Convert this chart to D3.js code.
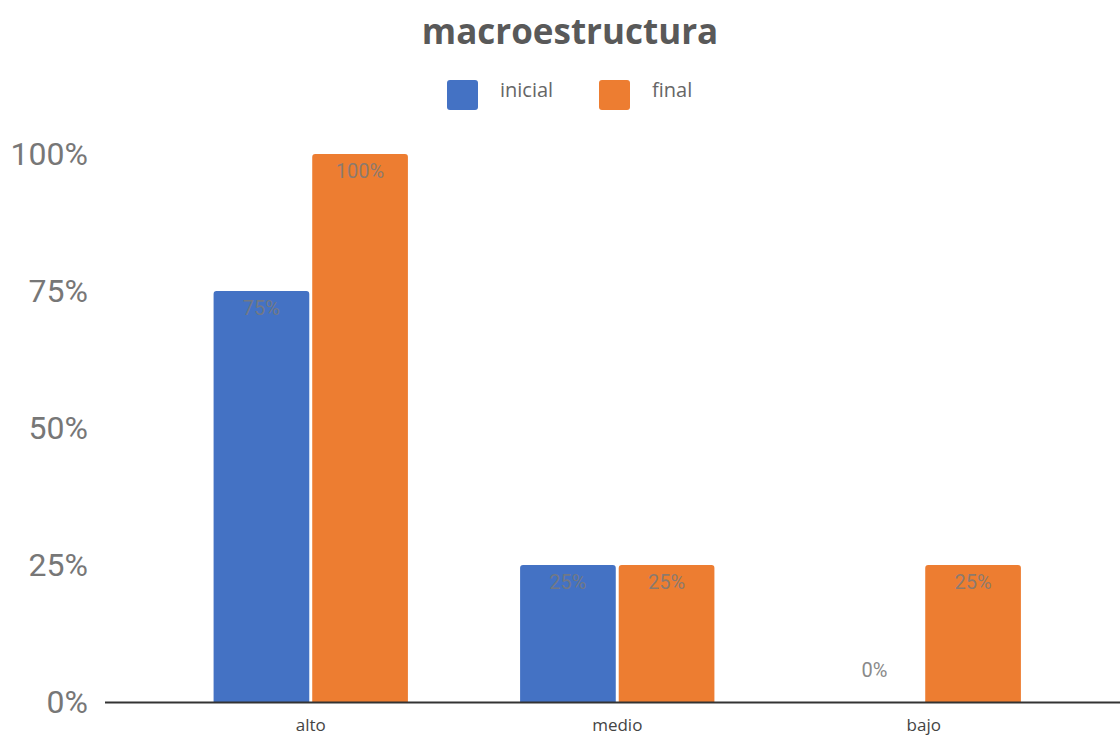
<!DOCTYPE html>
<html>
<head>
<meta charset="utf-8">
<script src="https://cdn.jsdelivr.net/npm/d3@7"></script>
<style>
  body { margin: 0; background: #fff; }
  svg { display: block; }
</style>
</head>
<body>
<svg id="chart" width="1120" height="735"></svg>
<script>
// Chart data
const categories = ["alto", "medio", "bajo"];
const seriesNames = ["inicial", "final"];
const inicial = [0.75, 0.25, 0];
const final = [1.00, 0.25, 0.25];
const yTicks = [0, 0.25, 0.5, 0.75, 1];

const colors = { inicial: "#4472C4", final: "#ED7D31" };
const seriesValues = { inicial, final };

const svg = d3.select("#chart");
const W = 1120, H = 735;

const y = d3.scaleLinear().domain([0, 1]).range([702, 154]);
const x0 = d3.scaleBand().domain(categories).range([157.5, 1077])
  .paddingInner(0.366).paddingOuter(0.183);
const x1 = d3.scaleBand().domain(seriesNames).range([0, x0.bandwidth()]).paddingInner(0.03);

const pct = d3.format(".0%");

// Title
svg.append("text")
  .attr("x", 570).attr("y", 44)
  .attr("text-anchor", "middle")
  .attr("font-family", "'Open Sans', sans-serif")
  .attr("font-weight", "bold")
  .attr("font-size", 35)
  .attr("fill", "#595959")
  .text("macroestructura");

// Legend
const legendX = [447, 599];
seriesNames.forEach((s, i) => {
  const g = svg.append("g").attr("transform", `translate(${legendX[i]},80)`);
  g.append("rect").attr("width", 31).attr("height", 30).attr("rx", 3)
    .attr("fill", colors[s]);
  g.append("text").attr("x", 53).attr("y", 12)
    .attr("font-family", "'Open Sans', sans-serif")
    .attr("font-size", 20).attr("fill", "#666")
    .attr("dominant-baseline", "middle")
    .text(s);
});

// Y axis labels
const yAxis = d3.axisLeft(y).tickValues(yTicks).tickFormat(pct).tickSize(0).tickPadding(0);
const yg = svg.append("g").attr("transform", "translate(88,0)").call(yAxis);
yg.select(".domain").remove();
yg.selectAll("text")
  .attr("font-family", "Roboto, sans-serif")
  .attr("font-size", 32)
  .attr("fill", "#777")
  .attr("dy", "0.33em");

// Bars
const rounded = (x, yTop, w, h, r) => {
  if (h <= 0) return "";
  r = Math.min(r, h, w / 2);
  return `M${x},${yTop + h}V${yTop + r}Q${x},${yTop} ${x + r},${yTop}` +
         `H${x + w - r}Q${x + w},${yTop} ${x + w},${yTop + r}V${yTop + h}Z`;
};

const groups = svg.append("g").selectAll("g").data(categories).join("g")
  .attr("transform", d => `translate(${x0(d)},0)`);

groups.each(function (cat, ci) {
  const g = d3.select(this);
  seriesNames.forEach(s => {
    const v = seriesValues[s][ci];
    const bx = x1(s), bw = x1.bandwidth();
    g.append("path")
      .attr("d", rounded(bx, y(v), bw, y(0) - y(v), 3))
      .attr("fill", colors[s]);
    const inside = (y(0) - y(v)) > 30;
    g.append("text")
      .attr("x", bx + bw / 2)
      .attr("y", inside ? y(v) + 19 : y(v) - 30)
      .attr("text-anchor", "middle")
      .attr("dominant-baseline", "middle")
      .attr("font-family", "Roboto, sans-serif")
      .attr("font-size", 20)
      .attr("fill", inside ? "#7a7a7a" : "#8a8a8a")
      .attr("fill-opacity", inside ? 0.85 : 1)
      .text(pct(v));
  });
});

// Baseline
svg.append("line")
  .attr("x1", 105).attr("x2", W)
  .attr("y1", y(0) + 0.5).attr("y2", y(0) + 0.5)
  .attr("stroke", "#333").attr("stroke-width", 2);

// Category labels
const xAxis = d3.axisBottom(x0).tickSize(0).tickPadding(0);
const xg = svg.append("g").attr("transform", `translate(0,${y(0)})`).call(xAxis);
xg.select(".domain").remove();
xg.selectAll("text")
  .attr("y", 23)
  .attr("dy", "0.35em")
  .attr("font-family", "'Open Sans', sans-serif")
  .attr("font-size", 17)
  .attr("fill", "#444");
</script>
</body>
</html>
